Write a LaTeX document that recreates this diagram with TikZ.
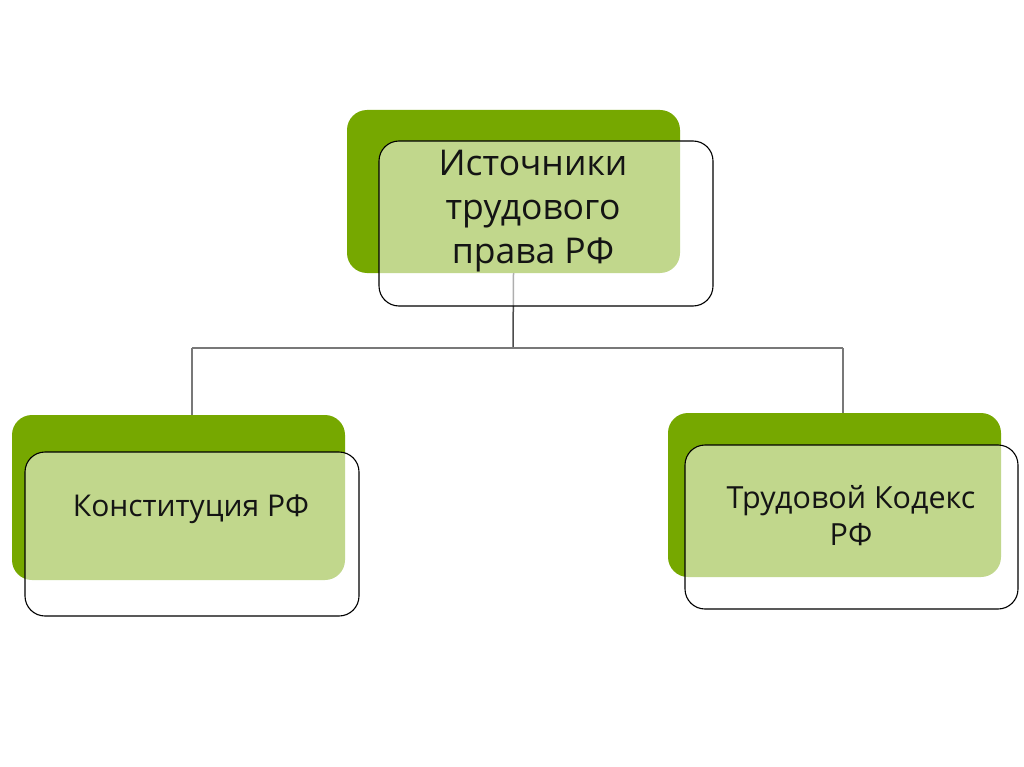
\documentclass[tikz,border=0pt]{standalone}
\usepackage{fontspec}
\setmainfont{Open Sans}
\begin{document}
\begin{tikzpicture}[x=1pt,y=-1pt,
  darkbox/.style={fill=dgreen, draw=none, rounded corners=20pt, minimum width=#1, inner sep=0pt},
  outbox/.style={draw=black, line width=1.1pt, fill=white, fill opacity=0.55, rounded corners=20pt, inner sep=0pt},
  conn/.style={draw=linegray, line width=1.5pt},
  lbl/.style={text=txt, align=center, inner sep=0pt}]
\definecolor{dgreen}{RGB}{118,168,0}
\definecolor{linegray}{RGB}{120,120,120}
\definecolor{txt}{RGB}{20,20,20}
\useasboundingbox (0,0) rectangle (1024,767);
\fill[white] (0,0) rectangle (1024,767);
% connectors
\coordinate (hub) at (513,348);
\coordinate (hl) at (192,348);
\coordinate (hr) at (843,348);
% top
\node[darkbox=333pt, minimum height=163pt] (topd) at (513.5,191.5) {};
\draw[conn, draw=black!70] (topd.south) -- (hub);
\node[outbox, minimum width=334pt, minimum height=165pt] (topo) at (546,223.5) {};
\node[lbl, font=\fontsize{35.5}{44}\selectfont] (toptxt) at (533,211) {Источники\\трудового\\права РФ};
% left
\node[darkbox=333pt, minimum height=165pt] (leftd) at (178.5,497.5) {};
\node[outbox, minimum width=334pt, minimum height=164pt] (lefto) at (192,534) {};
\node[lbl, font=\fontsize{30}{36}\selectfont] (lefttxt) at (191,509) {Конституция РФ};
% right
\node[darkbox=333pt, minimum height=164pt] (rightd) at (834.5,495) {};
\node[outbox, minimum width=333pt, minimum height=164pt] (righto) at (851.5,527) {};
\node[lbl, font=\fontsize{30.5}{37}\selectfont] (righttxt) at (851,516) {Трудовой Кодекс\\РФ};
% horizontal and drops
\draw[conn] (hl) -- (hr);
\draw[conn] (hl) -- (hl |- leftd.north);
\draw[conn] (hr) -- (hr |- rightd.north);
\end{tikzpicture}
\end{document}
